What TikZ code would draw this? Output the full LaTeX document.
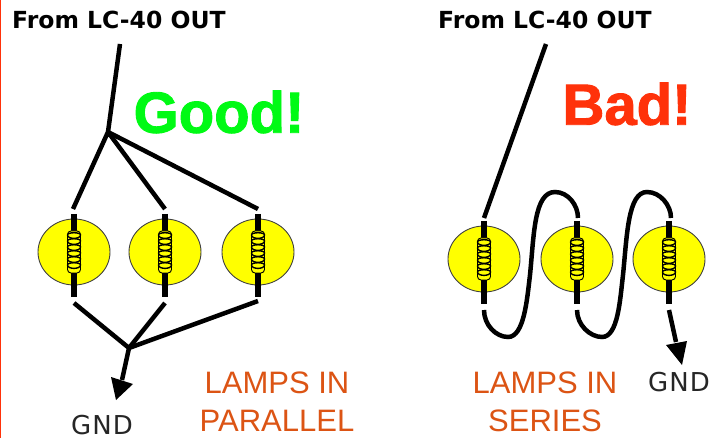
\documentclass[tikz,border=0pt]{standalone}
\usepackage{fontspec}
\setmainfont{Liberation Sans}
\newfontfamily\vera{DejaVu Sans}
\newfontfamily\veraspaced[LetterSpace=4]{DejaVu Sans}
\newfontfamily\heavy[FakeBold=1.6]{Liberation Sans Bold}
\usetikzlibrary{calc,shapes.geometric}
\definecolor{lampyellow}{RGB}{255,255,0}
\definecolor{goodgreen}{RGB}{0,250,20}
\definecolor{badred}{RGB}{255,50,10}
\definecolor{caporange}{RGB}{220,84,20}
\tikzset{
  x=1pt,y=-1pt,
  lamp/.style={draw=black!75,line width=0.9pt,fill=lampyellow,ellipse,minimum width=72pt,minimum height=66pt,inner sep=0pt},
  wire/.style={line width=4.5pt,black},
  bar/.style={line width=6pt,black},
  head/.style={text=black,font=\vera\bfseries\fontsize{23.5}{26}\selectfont,anchor=west,inner sep=0pt},
  gnd/.style={text=black!85,font=\veraspaced\fontsize{26}{30}\selectfont,inner sep=0pt},
  caption/.style={text=caporange,font=\fontsize{31}{38}\selectfont,align=center,inner sep=0pt},
  verdict/.style={font=\heavy\fontsize{58}{60}\selectfont,inner sep=0pt},
  coilbody/.style={draw=black,line width=0.9pt,fill=lampyellow,rounded corners=3.5pt},
  ring/.style={draw=black,line width=1.4pt},
  tiphead/.style={fill=black,draw=none}
}
\newcommand{\lampat}[3]{%
  \node[lamp] (#1) at (#2,#3) {};
  \coordinate (#1t) at (#2,#3-38);
  \coordinate (#1b) at (#2,#3+45);
  \draw[bar] (#1t) -- (#1b);
  \draw[coilbody] (#2-6.5,#3-21) rectangle (#2+6.5,#3+21);
  \foreach \k in {-17,-11,-5,1,7,13} {
    \draw[ring] (#2-6.5,#3+\k) .. controls (#2-6.5,#3+\k-3) and (#2+6.5,#3+\k-3) .. (#2+6.5,#3+\k)
                .. controls (#2+6.5,#3+\k+4.5) and (#2-6.5,#3+\k+4.5) .. (#2-6.5,#3+\k);
  }
}
\begin{document}
\begin{tikzpicture}
\useasboundingbox (0,0) rectangle (728,438);
\fill[white] (0,0) rectangle (728,438);
\fill[badred] (0,0) rectangle (1.2,438);

% left: parallel
\lampat{pa}{74}{252}
\lampat{pb}{165}{252}
\lampat{pc}{258}{252}
\node[head] (fromL) at (12,20) {From LC-40 OUT};
\coordinate (inL) at (120,44);
\coordinate (juncT) at (108,132);
\coordinate (juncB) at (129,348);
\coordinate (paE) at (73,209);
\coordinate (pbE) at (165,209);
\coordinate (pcE) at (258,209);
\coordinate (paB) at (74,303);
\coordinate (pbB) at (165,303);
\coordinate (pcB) at (258,301);
\draw[wire] (inL) -- (juncT);
\draw[wire] (paE) -- (juncT) -- (pbE);
\draw[wire] (juncT) -- (pcE);
\draw[wire] (paB) -- (juncB) -- (pbB);
\draw[wire] (juncB) -- (pcB);
\draw[wire] (juncB) -- (122,380);
\fill[tiphead] (111,377) -- (133,384) -- (116,400) -- cycle;
\node[verdict,text=goodgreen] (good) at (219,112) {Good!};
\node[gnd] (gndL) at (102,425) {GND};
\node[caption] (capL) at (277,402) {LAMPS IN\\PARALLEL};

% right: series
\lampat{sa}{484}{259}
\lampat{sb}{577}{259}
\lampat{sc}{669}{259}
\node[head] (fromR) at (438,20) {From LC-40 OUT};
\coordinate (inR) at (546,44);
\coordinate (saE) at (484,218);
\coordinate (saB) at (484,310);
\coordinate (sbE) at (578,218);
\coordinate (sbB) at (577,310);
\coordinate (scE) at (671,218);
\coordinate (scB) at (669,310);
\draw[wire] (inR) -- (saE);
\draw[wire,line cap=butt] (saB) .. controls (484,325) and (496,337) .. (508,337)
  .. controls (524,337) and (527,300) .. (530,275)
  .. controls (534,235) and (534,192) .. (555,192)
  .. controls (568,192) and (578,205) .. (sbE);
\draw[wire,line cap=butt] (sbB) .. controls (577,325) and (590,337) .. (602,337)
  .. controls (618,337) and (620,300) .. (623,275)
  .. controls (627,235) and (628,192) .. (647,192)
  .. controls (660,192) and (671,205) .. (scE);
\draw[wire] (scB) -- (676,342);
\fill[tiphead] (666,345) -- (687,341) -- (682,365) -- cycle;
\node[verdict,text=badred] (bad) at (627,104) {Bad!};
\node[gnd] (gndR) at (679,382) {GND};
\node[caption] (capR) at (545,402) {LAMPS IN\\SERIES};
\end{tikzpicture}
\end{document}
